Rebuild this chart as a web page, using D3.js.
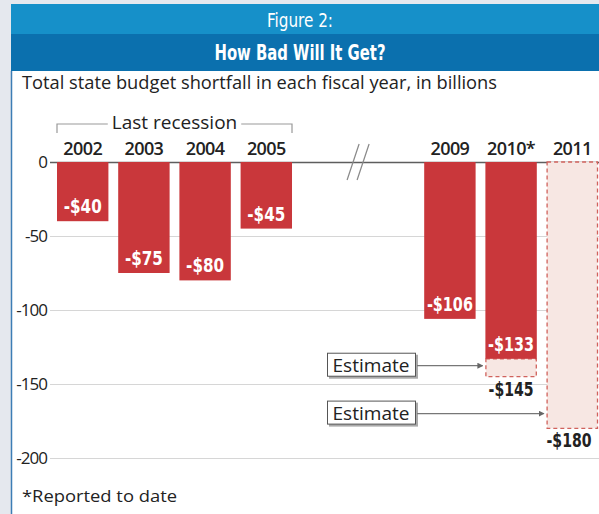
<!DOCTYPE html>
<html>
<head>
<meta charset="utf-8">
<script src="https://cdn.jsdelivr.net/npm/d3@7"></script>
<style>
  body { margin: 0; background: #e5e8ee; }
  svg { display: block; }
  .narrow { font-family: "Liberation Sans Narrow", "DejaVu Sans Condensed", sans-serif; }
  .body { font-family: "Open Sans", "Lato", sans-serif; }
</style>
</head>
<body>
<svg id="chart" width="599" height="514"></svg>
<script>
// slots along the x axis, the two gap slots hold the axis break
const slots = ["2002", "2003", "2004", "2005", "gap1", "gap2", "2009", "2010*", "2011"]
const years = ["2002", "2003", "2004", "2005", "2009", "2010*", "2011"]
const reported = [-40, -75, -80, -45, -106, -133, null]
const estimated = [null, null, null, null, null, -145, -180]
const yTicks = [0, -50, -100, -150, -200]
const recessionYears = ["2002", "2005"]

const bars = years.map((y, i) => ({ year: y, reported: reported[i], estimated: estimated[i] }))

const svg = d3.select("#chart")
const W = 599, H = 514

// squeeze a text to a given width (stand-in for a condensed face)
function squeeze(sel, w) {
    sel.attr("textLength", w).attr("lengthAdjust", "spacingAndGlyphs")
}

// background pieces
svg.append("rect").attr("width", W).attr("height", H).attr("fill", "#e5e8ee")
svg.append("rect").attr("x", 11).attr("y", 4).attr("width", W - 11).attr("height", 30).attr("fill", "#1690c9")
svg.append("rect").attr("x", 11).attr("y", 34).attr("width", W - 11).attr("height", 37).attr("fill", "#0b70ae")
svg.append("rect").attr("x", 11).attr("y", 71).attr("width", W - 11).attr("height", H - 71).attr("fill", "#fff")
svg.append("line").attr("x1", 11.5).attr("x2", 11.5).attr("y1", 71).attr("y2", H)
    .attr("stroke", "#3d7db5").attr("stroke-width", 1.5)

// titles
svg.append("text").attr("class", "narrow").attr("x", 300).attr("y", 27)
    .attr("text-anchor", "middle").attr("fill", "#fff").attr("font-size", 19)
    .text("Figure 2:").call(squeeze, 66)
svg.append("text").attr("class", "narrow").attr("x", 300).attr("y", 60)
    .attr("text-anchor", "middle").attr("fill", "#fff").attr("font-size", 21).attr("font-weight", "bold")
    .text("How Bad Will It Get?").call(squeeze, 171)
svg.append("text").attr("class", "body").attr("x", 22).attr("y", 89)
    .attr("fill", "#222").attr("font-size", 18.3)
    .text("Total state budget shortfall in each fiscal year, in billions").call(squeeze, 475)

// scales
const x = d3.scaleBand().domain(slots).range([57, 598]).paddingInner(0.16).paddingOuter(0)
const y = d3.scaleLinear().domain([0, -200]).range([162, 458])

// gridlines + tick labels
const axis = svg.append("g").attr("transform", "translate(50,0)")
    .call(d3.axisLeft(y).tickValues(yTicks).tickSize(-(W - 50)).tickPadding(3).tickFormat(d => String(d)))
axis.select(".domain").remove()
axis.selectAll(".tick line")
    .attr("stroke", d => d === 0 ? "#5e5e5e" : "#d6d6d6")
    .attr("stroke-width", d => d === 0 ? 1.5 : 1.2)
axis.selectAll(".tick text")
    .attr("font-size", 17).attr("fill", "#222")
    .attr("font-family", "'Open Sans', sans-serif")
    .attr("letter-spacing", -1)

// axis break marks
const bx = x("gap2") - (x.step() - x.bandwidth()) / 2
const brk = svg.append("g").attr("stroke", "#888").attr("stroke-width", 1.2)
;[-5, 5].forEach(o => {
    brk.append("line").attr("x1", bx + o + 6).attr("y1", 144).attr("x2", bx + o - 6).attr("y2", 180)
})

// last recession bracket
const rx0 = x(recessionYears[0]), rx1 = x(recessionYears[1]) + x.bandwidth()
svg.append("path")
    .attr("d", `M${rx0},133V124H${rx1}V133`)
    .attr("fill", "none").attr("stroke", "#999").attr("stroke-width", 1.2)
const recBg = svg.append("rect").attr("fill", "#fff")
const recLabel = svg.append("text").attr("class", "body").attr("x", (rx0 + rx1) / 2).attr("y", 129)
    .attr("text-anchor", "middle").attr("font-size", 19).attr("fill", "#222")
    .text("Last recession")
const bb = recLabel.node().getBBox()
recBg.attr("x", bb.x - 4).attr("y", 120).attr("width", bb.width + 8).attr("height", 8)

// year labels
svg.append("g").selectAll("text").data(bars).join("text")
    .attr("class", "body")
    .attr("x", d => x(d.year) + x.bandwidth() / 2)
    .attr("y", 155)
    .attr("text-anchor", "middle")
    .attr("font-size", 18).attr("font-weight", 600).attr("fill", "#222")
    .attr("letter-spacing", -0.6)
    .text(d => d.year)

// estimate boxes (dashed)
const est = bars.filter(d => d.estimated != null)
svg.append("g").selectAll("rect").data(est).join("rect")
    .attr("x", d => x(d.year) + 0.5)
    .attr("y", d => y(d.reported != null ? d.reported : 0))
    .attr("width", x.bandwidth() - 1)
    .attr("height", d => y(d.estimated) - y(d.reported != null ? d.reported : 0))
    .attr("fill", "#f7e7e3")
    .attr("stroke", "#d0625c").attr("stroke-width", 1.3).attr("stroke-dasharray", "4,3")

// reported bars
const rep = bars.filter(d => d.reported != null)
svg.append("g").selectAll("rect").data(rep).join("rect")
    .attr("x", d => x(d.year))
    .attr("y", y(0))
    .attr("width", x.bandwidth())
    .attr("height", d => y(d.reported) - y(0))
    .attr("fill", "#c9373b")

// labels inside reported bars
svg.append("g").selectAll("text").data(rep).join("text")
    .attr("class", "narrow")
    .attr("x", d => x(d.year) + x.bandwidth() / 2)
    .attr("y", d => y(d.reported) - 8)
    .attr("text-anchor", "middle")
    .attr("font-size", 20).attr("font-weight", "bold").attr("fill", "#fff")
    .text(d => "-$" + Math.abs(d.reported))
    .each(function (d) { squeeze(d3.select(this), Math.abs(d.reported) >= 100 ? 46 : 38) })

// labels under estimates
svg.append("g").selectAll("text").data(est).join("text")
    .attr("class", "narrow")
    .attr("x", d => Math.min(x(d.year) + x.bandwidth() / 2, W - 30))
    .attr("y", d => y(d.estimated) + 19)
    .attr("text-anchor", "middle")
    .attr("font-size", 20).attr("font-weight", "bold").attr("fill", "#222")
    .text(d => "-$" + Math.abs(d.estimated)).call(squeeze, 45)

// "Estimate" callouts
svg.append("defs").append("marker")
    .attr("id", "arrow").attr("viewBox", "0 0 6 6").attr("refX", 5).attr("refY", 3)
    .attr("markerWidth", 5).attr("markerHeight", 5).attr("orient", "auto")
    .append("path").attr("d", "M0,0L6,3L0,6Z").attr("fill", "#666")

const callouts = [
    { year: "2010*", cy: (y(-133) + y(-145)) / 2 - 2 },
    { year: "2011", cy: y(-170) }
]
callouts.forEach(c => {
    const g = svg.append("g")
    g.append("rect").attr("x", 329).attr("y", c.cy - 11).attr("width", 89).attr("height", 24).attr("fill", "#aaa")
    g.append("rect").attr("x", 327.5).attr("y", c.cy - 12.5).attr("width", 88).attr("height", 23)
        .attr("fill", "#fff").attr("stroke", "#555").attr("stroke-width", 1)
    g.append("text").attr("class", "body").attr("x", 371).attr("y", c.cy + 6)
        .attr("text-anchor", "middle").attr("font-size", 18).attr("fill", "#222")
        .text("Estimate").call(squeeze, 77)
    g.append("line").attr("x1", 417).attr("x2", x(c.year) - 3).attr("y1", c.cy).attr("y2", c.cy)
        .attr("stroke", "#777").attr("stroke-width", 1.2).attr("marker-end", "url(#arrow)")
})

// footnote
svg.append("text").attr("class", "body").attr("x", 22).attr("y", 502)
    .attr("font-size", 17).attr("fill", "#222")
    .text("*Reported to date").call(squeeze, 155)
</script>
</body>
</html>
